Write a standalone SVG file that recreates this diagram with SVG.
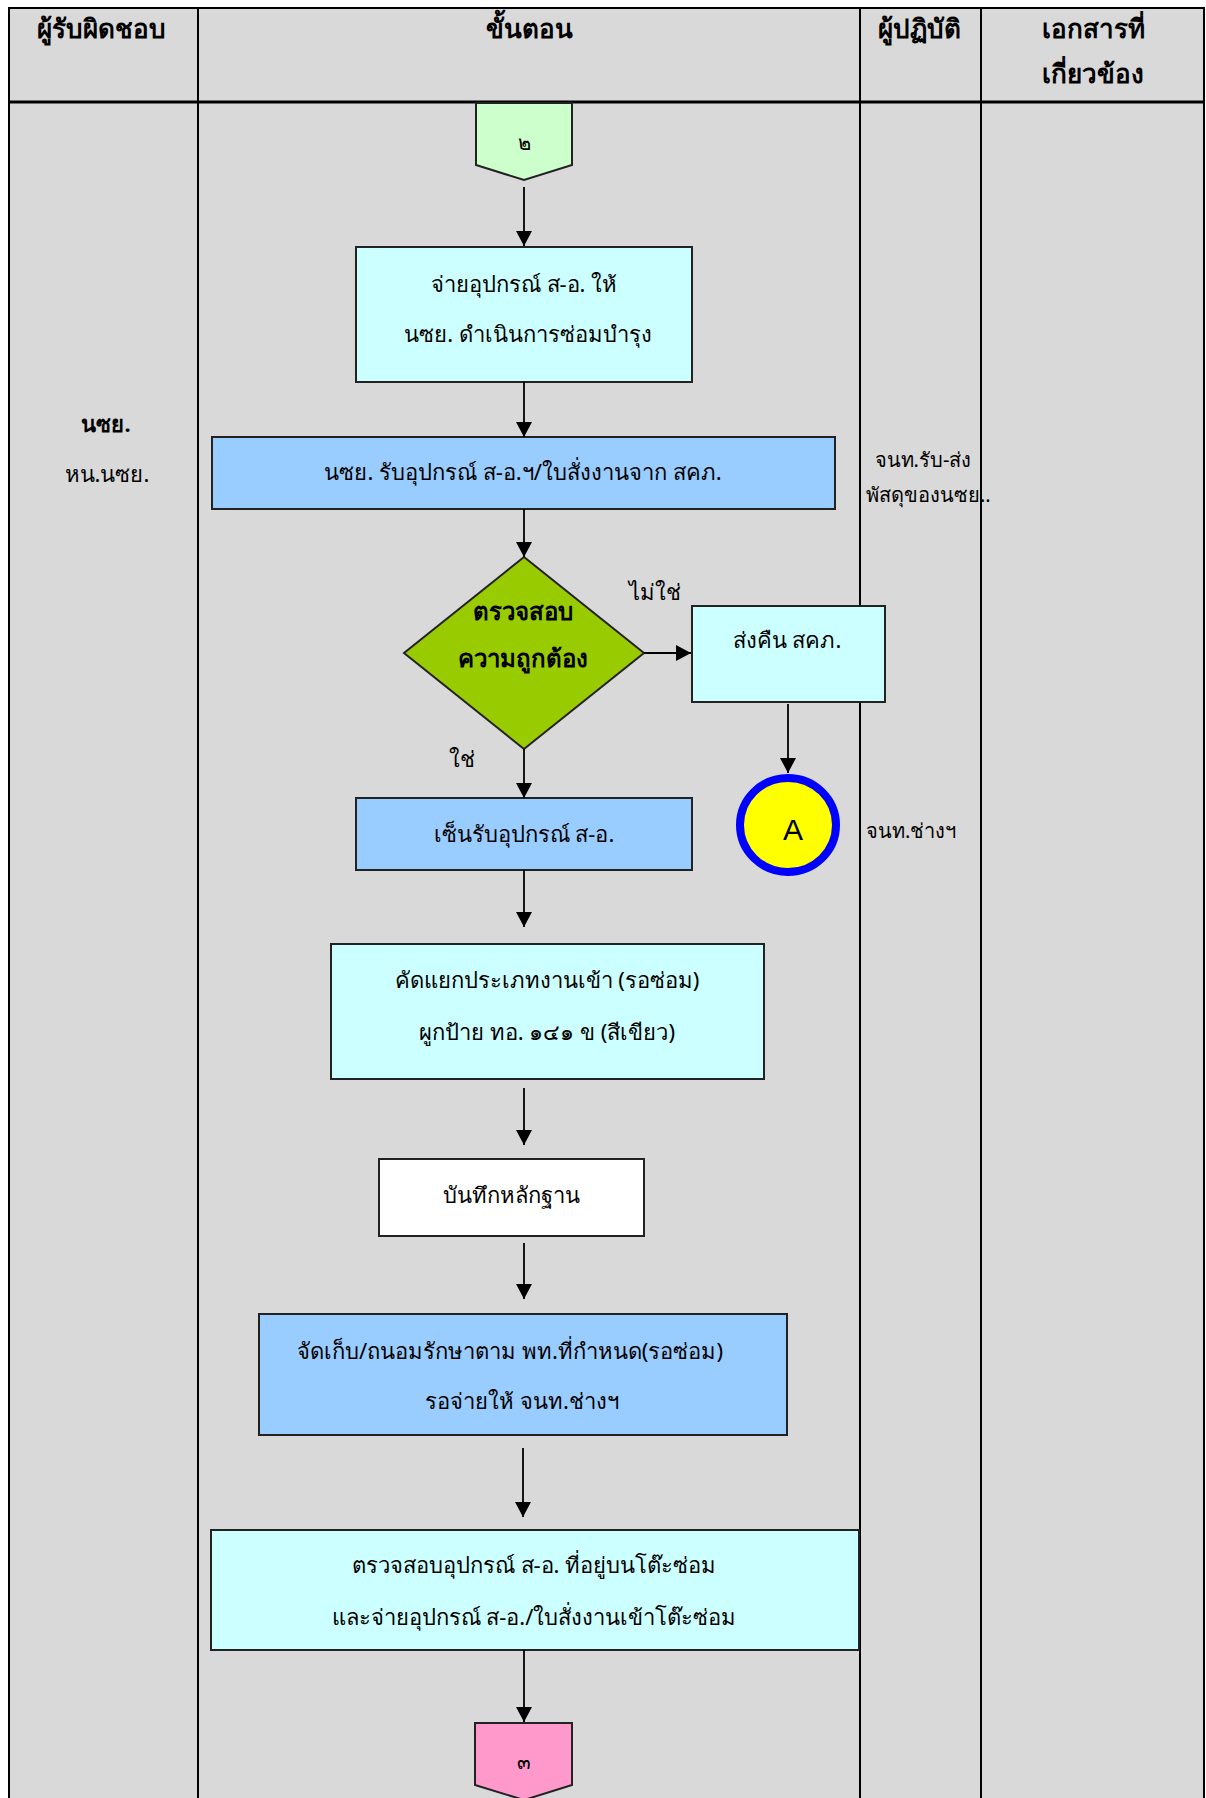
<svg xmlns="http://www.w3.org/2000/svg" width="1206" height="1798" viewBox="0 0 1206 1798">
<defs>
<style>
text{font-family:"Noto Sans","DejaVu Sans",sans-serif;fill:#000;}
.h{font-size:26px;font-weight:bold;text-anchor:middle;}
.t{font-size:22px;text-anchor:middle;}
.s{font-size:20px;}
.box{stroke:#222;stroke-width:2;}
.cyan{fill:#CCFFFF;}
.blue{fill:#99CCFF;}
.grid{stroke:#000;stroke-width:2;fill:none;}
.conn line{stroke:#000;stroke-width:1.8;marker-end:url(#ah);}
</style>
<marker id="ah" markerUnits="userSpaceOnUse" markerWidth="16" markerHeight="16" refX="15" refY="8" orient="auto">
<path d="M0,0 L15,8 L0,16 Z" fill="#000"/>
</marker>
</defs>
<rect x="0" y="0" width="1206" height="1798" fill="#fff"/>
<rect x="8" y="8" width="1196" height="1792" fill="#D9D9D9"/>
<g id="table">
<line class="grid" x1="8" y1="8" x2="1204" y2="8"/>
<line class="grid" x1="9" y1="7" x2="9" y2="1798"/>
<line class="grid" x1="1204" y1="7" x2="1204" y2="1798"/>
<line class="grid" x1="198" y1="8" x2="198" y2="1798"/>
<line class="grid" x1="860" y1="8" x2="860" y2="1798"/>
<line class="grid" x1="981" y1="8" x2="981" y2="1798"/>
<line class="grid" x1="8" y1="102" x2="1204" y2="102" style="stroke-width:3"/>
<text class="h" x="101" y="38">ผู้รับผิดชอบ</text>
<text class="h" x="529" y="38">ขั้นตอน</text>
<text class="h" x="919" y="38">ผู้ปฏิบัติ</text>
<text class="h" x="1093" y="38">เอกสารที่</text>
<text class="h" x="1093" y="83">เกี่ยวข้อง</text>
</g>
<g id="lane-labels">
<text class="t" x="106" y="432" style="font-weight:bold">นซย.</text>
<text class="t" x="107" y="482">หน.นซย.</text>
<text class="s" x="923" y="467" text-anchor="middle">จนท.รับ-ส่ง</text>
<text class="s" x="866" y="502">พัสดุของนซย..</text>
<text class="s" x="866" y="838">จนท.ช่างฯ</text>
</g>
<g id="start2">
<path d="M476,103 H572 V165 L524,180 L476,165 Z" fill="#CCFFCC" stroke="#222" stroke-width="2"/>
<text x="524" y="150" font-size="20" text-anchor="middle">๒</text>
</g>
<g id="n1">
<rect class="box cyan" x="356" y="247" width="336" height="135"/>
<text class="t" x="524" y="292">จ่ายอุปกรณ์ ส-อ. ให้</text>
<text class="t" x="528" y="342">นซย. ดำเนินการซ่อมบำรุง</text>
</g>
<g id="n2">
<rect class="box blue" x="212" y="437" width="623" height="72"/>
<text class="t" x="523" y="480">นซย. รับอุปกรณ์ ส-อ.ฯ/ใบสั่งงานจาก สคภ.</text>
</g>
<g id="d1">
<path d="M524,557 L644,653 L524,749 L404,653 Z" fill="#99CC00" stroke="#222" stroke-width="2"/>
<text x="523" y="620" font-size="24" font-weight="bold" text-anchor="middle">ตรวจสอบ</text>
<text x="523" y="667" font-size="24" font-weight="bold" text-anchor="middle">ความถูกต้อง</text>
</g>
<g id="n-return">
<rect class="box cyan" x="692" y="606" width="193" height="96"/>
<text class="t" x="787" y="648">ส่งคืน สคภ.</text>
</g>
<g id="endA">
<ellipse cx="788" cy="825" rx="48" ry="47" fill="#FFFF00" stroke="#0000FF" stroke-width="8"/>
<text x="793" y="840" font-size="30" text-anchor="middle" style="font-family:'Liberation Sans',sans-serif">A</text>
</g>
<g id="n3">
<rect class="box blue" x="356" y="798" width="336" height="72"/>
<text class="t" x="524" y="842">เซ็นรับอุปกรณ์ ส-อ.</text>
</g>
<g id="n4">
<rect class="box cyan" x="331" y="944" width="433" height="135"/>
<text class="t" x="547" y="988">คัดแยกประเภทงานเข้า (รอซ่อม)</text>
<text class="t" x="547" y="1040">ผูกป้าย ทอ. ๑๔๑ ข (สีเขียว)</text>
</g>
<g id="n5">
<rect x="379" y="1159" width="265" height="77" fill="#fff" stroke="#222" stroke-width="2"/>
<text class="t" x="511" y="1203">บันทึกหลักฐาน</text>
</g>
<g id="n6">
<rect class="box blue" x="259" y="1314" width="528" height="121"/>
<text class="t" x="510" y="1359">จัดเก็บ/ถนอมรักษาตาม พท.ที่กำหนด(รอซ่อม)</text>
<text class="t" x="522" y="1409">รอจ่ายให้ จนท.ช่างฯ</text>
</g>
<g id="n7">
<rect class="box cyan" x="211" y="1530" width="648" height="120"/>
<text class="t" x="534" y="1573">ตรวจสอบอุปกรณ์ ส-อ. ที่อยู่บนโต๊ะซ่อม</text>
<text class="t" x="534" y="1625">และจ่ายอุปกรณ์ ส-อ./ใบสั่งงานเข้าโต๊ะซ่อม</text>
</g>
<g id="end3">
<path d="M475,1723 H572 V1785 L524,1800 L475,1785 Z" fill="#FF99CC" stroke="#222" stroke-width="2"/>
<text x="524" y="1769" font-size="20" text-anchor="middle">๓</text>
</g>
<g id="connectors" class="conn">
<line x1="524" y1="187" x2="524" y2="246"/>
<line x1="524" y1="382" x2="524" y2="437"/>
<line x1="524" y1="509" x2="524" y2="557"/>
<line x1="644" y1="653" x2="691" y2="653"/>
<line x1="788" y1="704" x2="788" y2="773"/>
<line x1="524" y1="749" x2="524" y2="798"/>
<line x1="524" y1="870" x2="524" y2="927"/>
<line x1="524" y1="1088" x2="524" y2="1145"/>
<line x1="524" y1="1243" x2="524" y2="1299"/>
<line x1="523" y1="1448" x2="523" y2="1517"/>
<line x1="524" y1="1650" x2="524" y2="1722"/>
</g>
<g id="edge-labels">
<text class="t" x="655" y="600">ไม่ใช่</text>
<text class="t" x="462" y="767">ใช่</text>
</g>
</svg>
